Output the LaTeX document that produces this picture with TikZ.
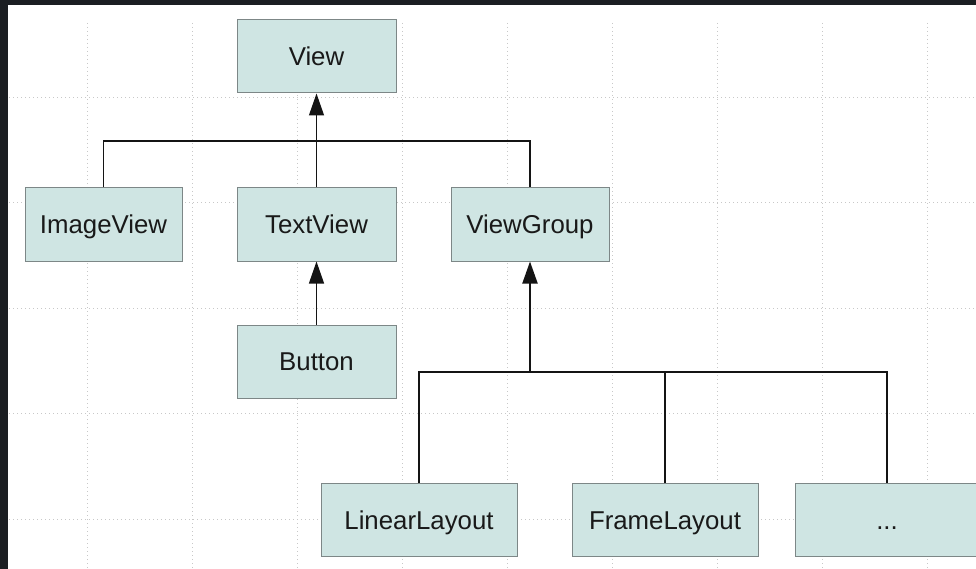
\documentclass[tikz,border=0pt]{standalone}
\usepackage{fontspec}
\setmainfont{Liberation Sans}
\usetikzlibrary{arrows.meta}
\definecolor{darkbg}{RGB}{27,30,34}
\definecolor{boxfill}{RGB}{207,229,227}
\definecolor{boxline}{RGB}{125,135,135}
\definecolor{gridc}{RGB}{200,200,200}
\definecolor{linec}{RGB}{20,20,20}
\tikzset{
  cls/.style={draw=boxline, fill=boxfill, line width=1pt, minimum height=73pt,
    inner sep=0pt, text=black!90, font=\fontsize{25.8}{30}\selectfont,
    text height=18.4pt, text depth=0pt},
  gridline/.style={gridc, line width=0.9pt, dash pattern=on 1pt off 3pt},
  conn/.style={linec, line width=1.3pt},
  inh/.style={conn, -{Triangle[length=22pt,width=15pt]}},
}
\begin{document}
\begin{tikzpicture}[x=1pt,y=-1pt]
\useasboundingbox (0,0) rectangle (976,569);
\fill[darkbg] (0,0) rectangle (976,569);
\fill[white] (7.5,4.7) rectangle (976,569);
% grid
\foreach \gx in {0,...,8} {
  \draw[gridline] ({87+105.1*\gx},23) -- ({87+105.1*\gx},569);
}
\foreach \gy in {0,...,4} {
  \draw[gridline] (9,{97+105.5*\gy}) -- (976,{97+105.5*\gy});
}
% boxes
\node[cls, minimum width=159pt] (view) at (316.5,56.5) {View};
\node[cls, minimum width=157pt] (imageview) at (103.5,224.5) {ImageView};
\node[cls, minimum width=159pt] (textview) at (316.5,224.5) {TextView};
\node[cls, minimum width=158pt] (viewgroup) at (530,224.5) {ViewGroup};
\node[cls, minimum width=159pt] (button) at (316.5,361.5) {Button};
\node[cls, minimum width=196pt] (linear) at (419,520) {LinearLayout};
\node[cls, minimum width=186pt] (frame) at (665,520) {FrameLayout};
\begin{scope}
\clip (0,0) rectangle (976,569);
\node[cls, minimum width=184pt] (more) at (887,520) {...};
\end{scope}
% connectors
\coordinate (j1) at (316.5,141);
\coordinate (j2) at (530,372);
\draw[conn] (imageview.north) |- (j1) -| (viewgroup.north);
\draw[inh] (textview.north) -- (view.south);
\draw[inh] (button.north) -- (textview.south);
\draw[conn] (linear.north) |- (j2) -| (more.north);
\draw[conn] (frame.north) -- (frame.north |- j2);
\draw[linec, line width=2pt, -{Triangle[length=22pt,width=15pt]}] (j2) -- (viewgroup.south);
\end{tikzpicture}
\end{document}
